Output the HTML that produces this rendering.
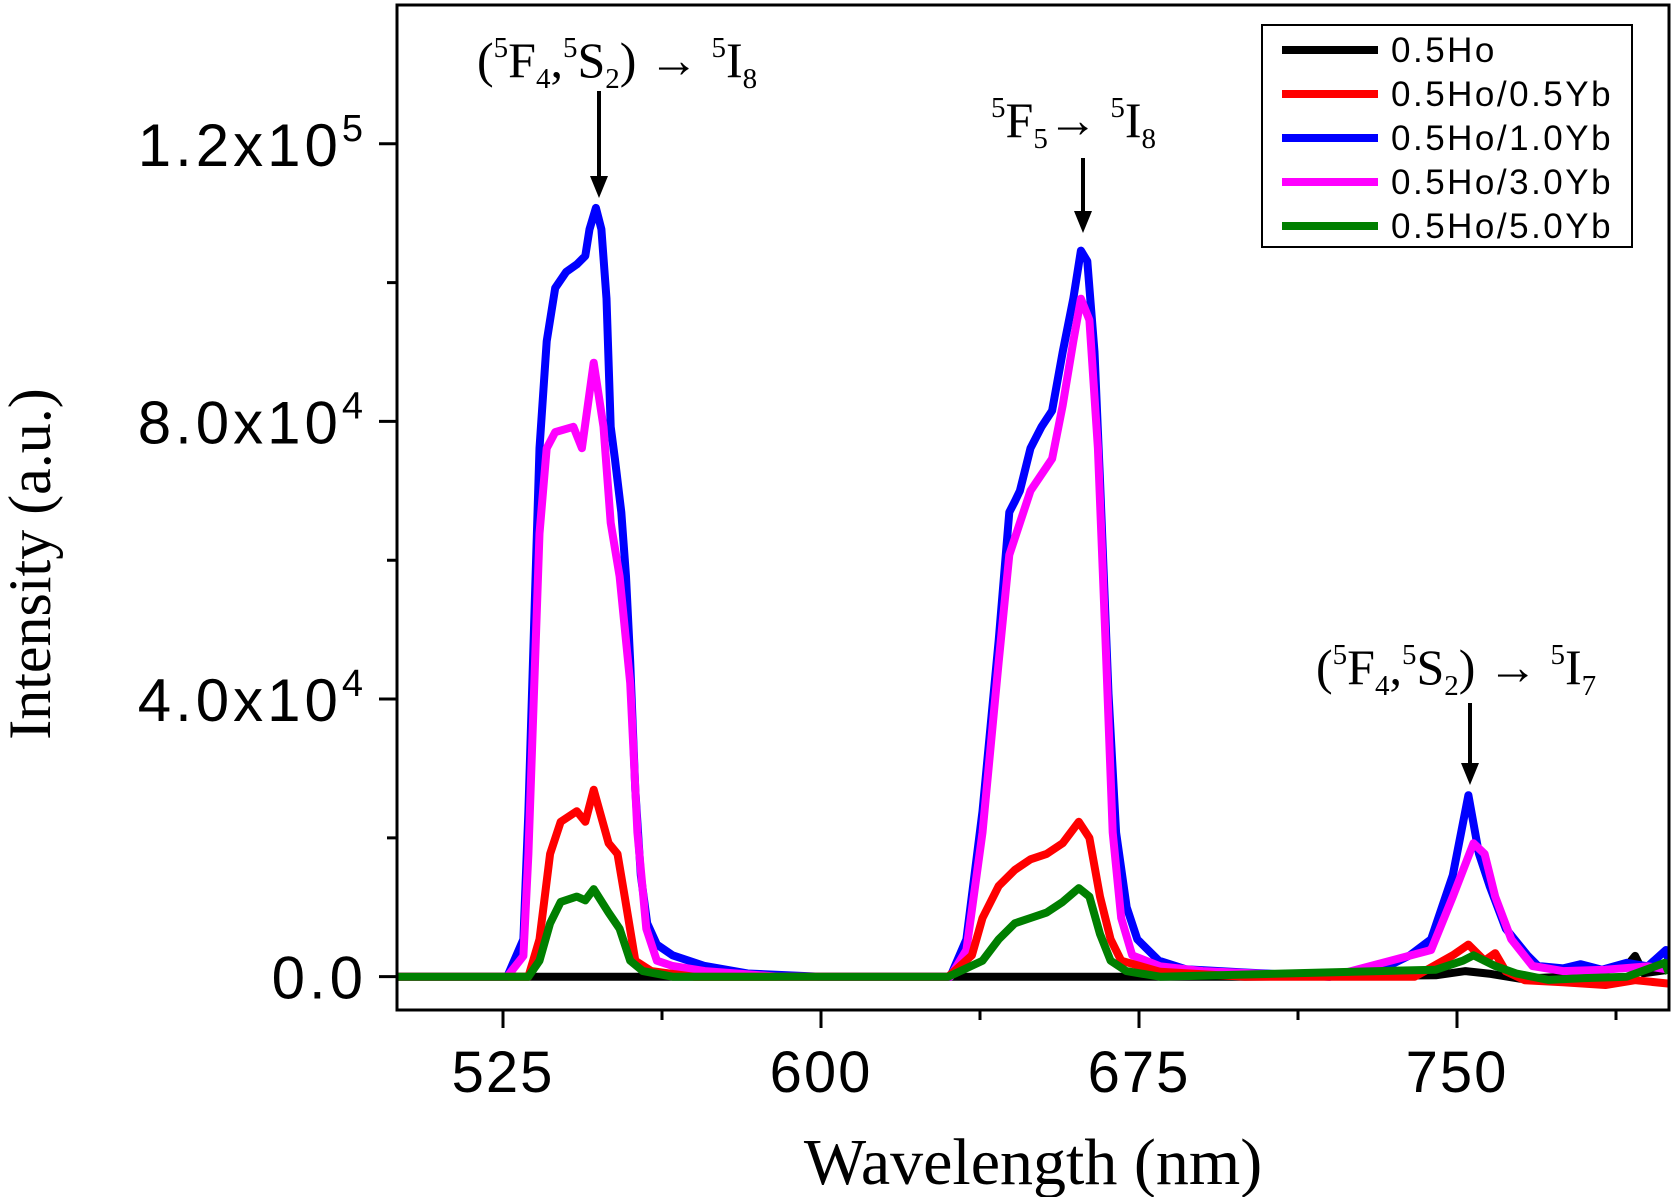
<!DOCTYPE html>
<html><head><meta charset="utf-8"><style>
html,body{margin:0;padding:0;background:#fff;}
svg{display:block;}
</style></head><body>
<svg id="chart" width="1675" height="1197" xmlns="http://www.w3.org/2000/svg">
<rect x="0" y="0" width="1675" height="1197" fill="#fff"/>
<g id="series"></g>
<rect x="397" y="5" width="1272" height="1005" fill="none" stroke="#000" stroke-width="3"/>
<g id="axes"></g>
<text x="1033" y="1184" font-family="Liberation Serif, serif" font-size="66" text-anchor="middle">Wavelength (nm)</text>
<text transform="translate(50,564) rotate(-90)" font-family="Liberation Serif, serif" font-size="60" text-anchor="middle">Intensity (a.u.)</text>
<g font-family="Liberation Serif, serif" font-size="50">
<text x="477" y="77">(<tspan font-size="29" dy="-20">5</tspan><tspan dy="20">F</tspan><tspan font-size="29" dy="11">4</tspan><tspan dy="-11">,</tspan><tspan font-size="29" dy="-20">5</tspan><tspan dy="20">S</tspan><tspan font-size="29" dy="11">2</tspan><tspan dy="-11">) → </tspan><tspan font-size="29" dy="-20">5</tspan><tspan dy="20">I</tspan><tspan font-size="29" dy="11">8</tspan></text>
</g>
<g font-family="Liberation Serif, serif" font-size="50">
<text x="991" y="137"><tspan font-size="29" dy="-20">5</tspan><tspan dy="20">F</tspan><tspan font-size="29" dy="11">5</tspan><tspan dy="-11">→ </tspan><tspan font-size="29" dy="-20">5</tspan><tspan dy="20">I</tspan><tspan font-size="29" dy="11">8</tspan></text>
</g>
<g font-family="Liberation Serif, serif" font-size="50">
<text x="1316" y="684">(<tspan font-size="29" dy="-20">5</tspan><tspan dy="20">F</tspan><tspan font-size="29" dy="11">4</tspan><tspan dy="-11">,</tspan><tspan font-size="29" dy="-20">5</tspan><tspan dy="20">S</tspan><tspan font-size="29" dy="11">2</tspan><tspan dy="-11">) → </tspan><tspan font-size="29" dy="-20">5</tspan><tspan dy="20">I</tspan><tspan font-size="29" dy="11">7</tspan></text>
</g>
<g><line x1="599" y1="91" x2="599" y2="180" stroke="#000" stroke-width="4"/><polygon points="590,176 608,176 599,198" fill="#000"/></g>
<g><line x1="1083" y1="158" x2="1083" y2="215" stroke="#000" stroke-width="4"/><polygon points="1074,211 1092,211 1083,233" fill="#000"/></g>
<g><line x1="1470" y1="703" x2="1470" y2="767" stroke="#000" stroke-width="4"/><polygon points="1461,763 1479,763 1470,785" fill="#000"/></g>
<g id="legend">
<rect x="1262" y="25" width="370" height="222" fill="#fff" stroke="#000" stroke-width="2"/>
</g>
</svg>
<script>
const xTicks = [525, 600, 675, 750];
const xMinor = [562.5, 637.5, 712.5, 787.5];
const yTicks = [0, 40000, 80000, 120000];
const yTickLabels = ["0.0", "4.0x10", "8.0x10", "1.2x10"];
const yTickExp = ["", "4", "4", "5"];
const yMinor = [20000, 60000, 100000];
const seriesNames = ["0.5Ho", "0.5Ho/0.5Yb", "0.5Ho/1.0Yb", "0.5Ho/3.0Yb", "0.5Ho/5.0Yb"];
const seriesColors = ["#000000", "#ff0000", "#0000ff", "#ff00ff", "#007f00"];

const wlHo = [500,560,600,700,745,752,758,765,775,790,792,794,800];
const iHo  = [0,0,0,0,200,800,400,-300,0,1500,3000,500,1000];

const wlYb05 = [500,531,533.6,536.1,538.6,542.4,544.4,546.4,549.9,552.0,553.7,556.2,560,570,630,635.6,638.1,641.9,645.7,649.4,653.2,657.0,660.8,663.3,665.8,668.3,670.8,680,700,740,749.0,752.7,756.5,759.0,761.5,766,775,785,792,800];
const iYb05  = [0,0,5380,17690,22310,23850,22310,26920,19230,17690,11540,2310,800,0,0,3080,8460,13080,15380,16920,17690,19230,22310,20000,11540,5380,2310,700,0,0,3080,4620,2310,3380,770,-500,-800,-1200,-500,-1000];

const wlYb10 = [500,526,529.8,531.0,533.6,535.3,537.3,539.9,542.4,544.4,545.4,546.9,548.2,549.4,550.4,551.4,552.9,554.0,555.0,556.2,557.5,559.0,561.3,565.0,572.6,582.7,600,630.5,634.3,638.1,641.9,644.4,645.7,646.9,649.4,652.0,654.5,657.0,659.5,661.3,662.8,664.5,665.8,667.8,669.6,672.1,674.6,679.7,686.0,700,720,733.8,738.9,743.9,749.0,752.7,755.2,757.7,761.5,766.6,769.1,775,779.2,784.2,790,795,799.3,800];
const iYb10  = [0,0,5380,23850,76150,91540,99230,101540,102620,103850,107690,110770,107690,97690,79230,74620,66920,57690,45380,26920,14620,7690,4620,3080,1540,460,0,0,5380,23850,48460,66920,68460,70000,76150,79230,81540,90000,97690,104620,103080,90000,71540,40770,20770,10000,5380,2310,1080,600,0,1540,3080,5380,14620,26150,17690,13080,6920,3080,1540,1200,1800,1000,2000,1500,3850,2000];

const wlYb30 = [500,526,529.8,531.0,533.6,535.3,537.3,541.6,543.6,546.4,548.7,550.4,552.5,555.0,556.7,558.8,561.3,565,572.6,590,630.5,634.3,638.1,641.9,644.4,649.4,654.5,657.0,659.5,661.3,663.3,665.3,667.1,668.8,670.8,673.4,680,690,720,743.9,749.0,753.9,756.5,759.0,762.8,767.8,775,785,795,800];
const iYb30  = [0,0,3000,17690,63850,76150,78460,79230,76150,88460,79230,65380,57690,42310,20770,6920,2310,1540,800,0,0,3850,20770,45380,60770,70000,74620,82310,91540,97690,94620,76150,48460,20770,8460,3080,1500,800,0,3850,11540,19230,17690,11540,5380,1540,800,1000,1500,1000];

const wlYb50 = [500,531,533.6,536.1,538.6,542.4,544.4,546.4,549.9,552.5,555.0,558,565,630,638.1,641.9,645.7,649.4,653.2,657,660.8,663.3,665.8,668.3,672,680,745,751.4,753.9,759,764,771.6,780,790,799,800];
const iYb50  = [0,0,2310,7690,10770,11540,11000,12620,9230,6920,2310,800,0,0,2310,5380,7690,8460,9230,10770,12770,11540,6150,2310,800,0,1000,2310,3080,1540,460,-460,-200,0,2000,500];

const X0 = 397, X1 = 1669, Y0 = 1010, Y1 = 5;
const xMin = 500, xMax = 800, yMin = -4800, yMax = 140000;
function xs(v){ return X0 + (v - xMin) / (xMax - xMin) * (X1 - X0); }
function ys(v){ return Y0 - (v - yMin) / (yMax - yMin) * (Y0 - Y1); }
const NS = "http://www.w3.org/2000/svg";
function mk(tag, attrs, parent){ const e = document.createElementNS(NS, tag); for (const k in attrs) e.setAttribute(k, attrs[k]); parent.appendChild(e); return e; }

const axes = document.getElementById('axes');
xTicks.forEach((t, i) => {
  const l = mk('line', {x1: xs(t), x2: xs(t), y1: Y0, y2: Y0 + 18, stroke: '#000', 'stroke-width': 3}, axes);
  
  
  const tx = mk('text', {x: xs(t), y: 1092, 'font-family': 'Liberation Sans, sans-serif', 'font-size': 58, 'text-anchor': 'middle', 'letter-spacing': 2}, axes);
  tx.textContent = String(t);
  
  
});
xMinor.forEach(t => {
  const l = mk('line', {x1: xs(t), x2: xs(t), y1: Y0, y2: Y0 + 10, stroke: '#000', 'stroke-width': 3}, axes);
  
  
});
yTicks.forEach((t, i) => {
  const l = mk('line', {x1: X0 - 18, x2: X0, y1: ys(t), y2: ys(t), stroke: '#000', 'stroke-width': 3}, axes);
  
  
  const tx = mk('text', {x: 367, y: ys(t) + 22, 'font-family': 'Liberation Sans, sans-serif', 'font-size': 60, 'text-anchor': 'end', 'letter-spacing': 4}, axes);
  
  
  tx.appendChild(document.createTextNode(yTickLabels[i]));
  if (yTickExp[i]) {
    const s = mk('tspan', {'font-size': 38, dy: -25}, tx);
    s.textContent = yTickExp[i];
  }
});
yMinor.forEach(t => {
  const l = mk('line', {x1: X0 - 10, x2: X0, y1: ys(t), y2: ys(t), stroke: '#000', 'stroke-width': 3}, axes);
  
  
});

const seriesLayer = document.getElementById('series');
const allWl = [wlHo, wlYb05, wlYb10, wlYb30, wlYb50];
const allI = [iHo, iYb05, iYb10, iYb30, iYb50];
const order = [0, 2, 3, 1, 4];
const clip = mk('clipPath', {id: 'plotclip'}, seriesLayer);
mk('rect', {x: X0, y: Y1, width: X1 - X0, height: Y0 - Y1}, clip);
order.forEach(k => {
  const pts = allWl[k].map((w, j) => xs(w).toFixed(1) + ',' + ys(allI[k][j]).toFixed(1)).join(' ');
  const p = mk('polyline', {points: pts, fill: 'none', stroke: seriesColors[k], 'stroke-width': 8, 'stroke-linejoin': 'round', 'clip-path': 'url(#plotclip)'}, seriesLayer);
  
  
});

const legend = document.getElementById('legend');
seriesNames.forEach((n, i) => {
  const y = 50 + i * 44;
  const l = mk('line', {x1: 1282, x2: 1378, y1: y, y2: y, stroke: seriesColors[i], 'stroke-width': 8}, legend);
  
  
  const t = mk('text', {x: 1391, y: y + 12, 'font-family': 'Liberation Sans, sans-serif', 'font-size': 35, 'letter-spacing': 2.5}, legend);
  t.textContent = n;
  
  
});
</script>
</body></html>
